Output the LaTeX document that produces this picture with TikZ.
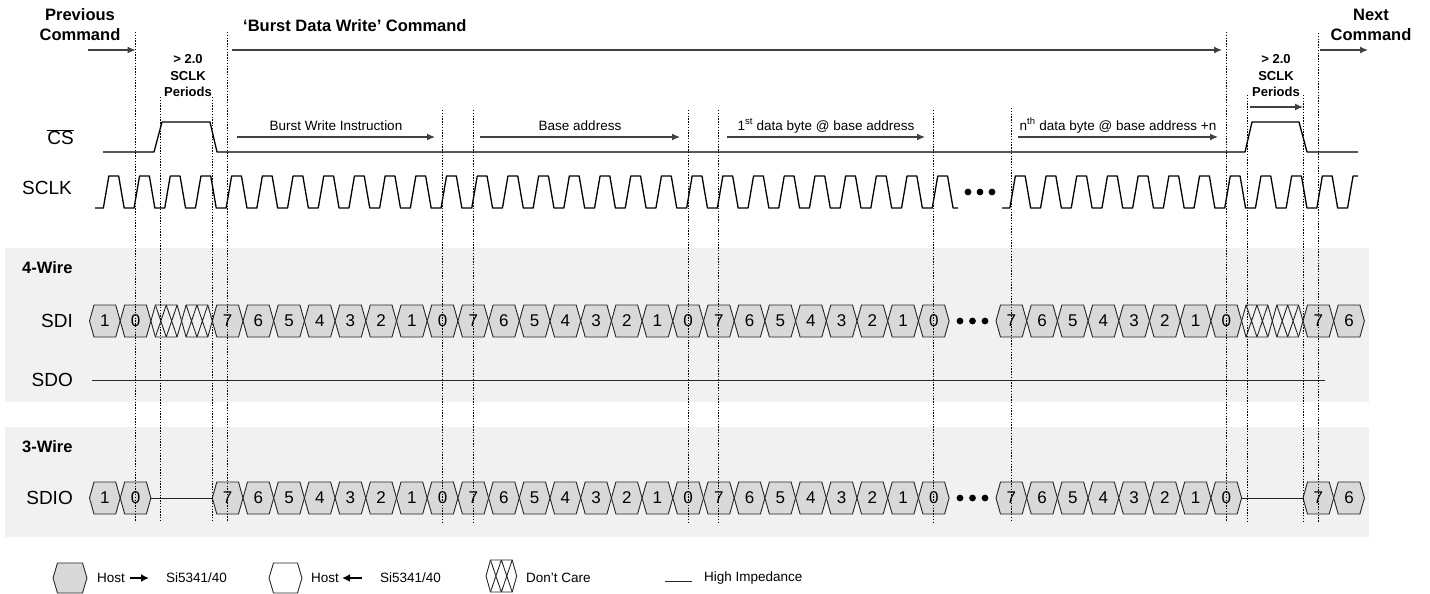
\documentclass[tikz,border=0pt]{standalone}
\usepackage{fontspec}
\setmainfont{Liberation Sans}
\usetikzlibrary{arrows.meta}
\definecolor{bandgray}{HTML}{F1F1F1}
\definecolor{bitgray}{HTML}{D9D9D9}
\definecolor{spangray}{HTML}{404040}
\newcommand{\cw}{30.7}
% bit cell: name, left x, centre y, bit
\newcommand{\bitcell}[4]{%
  \draw[cell] (#2,#3) -- ++(4.5,-16) -- ++(\cw-9,0) -- ++(4.5,16)
    -- ++(-4.5,16) -- ++(-\cw+9,0) -- cycle;
  \node[bit] (#1) at (#2+\cw/2,#3) {#4};}
% don't care cell: left x, centre y
\newcommand{\carecell}[2]{%
  \draw[wire] (#1,#2) -- ++(4.5,-16) -- ++(\cw-9,0) -- ++(4.5,16)
    -- ++(-4.5,16) -- ++(-\cw+9,0) -- cycle;
  \draw[wire] (#1+4.5,#2-16) -- (#1+\cw/2,#2+16) (#1+\cw/2,#2-16) -- (#1+4.5,#2+16)
    (#1+\cw/2,#2-16) -- (#1+\cw-4.5,#2+16) (#1+\cw-4.5,#2-16) -- (#1+\cw/2,#2+16);}

\begin{document}
\begin{tikzpicture}[x=1pt, y=-1pt,
  wave/.style={line width=1.3pt, line join=round},
  cell/.style={draw=black!85, fill=bitgray, line width=0.9pt},
  wire/.style={draw=black!85, line width=0.9pt},
  bit/.style={font=\fontsize{17}{17}\selectfont, inner sep=0pt},
  sig/.style={font=\fontsize{19}{19}\selectfont, anchor=east, inner sep=0pt},
  head/.style={font=\fontsize{16.5}{20}\selectfont\bfseries, align=center, inner sep=0pt},
  gap/.style={font=\fontsize{13}{16.5}\selectfont\bfseries, align=center, inner sep=0pt},
  small/.style={font=\fontsize{13.5}{13.5}\selectfont, inner sep=0pt},
  span/.style={draw=spangray, line width=1.3pt, -{Latex[length=8pt,width=7pt]}},
  hostarrow/.style={line width=1.8pt, -{Latex[length=8pt,width=8pt]}},
  guide/.style={line width=0.8pt, dash pattern=on 1.4pt off 1.4pt}]
  \useasboundingbox (0,0) rectangle (1430,594);

  % bands
  \fill[bandgray] (5,248) rectangle (1369,402);
  \fill[bandgray] (5,427) rectangle (1369,537);

  % headings
  \node[head] (prev) at (80,25) {Previous\\Command};
  \node[head] (next) at (1371,25) {Next\\Command};
  \node[head, anchor=west] (burst) at (243,26) {‘Burst Data Write’ Command};
  \coordinate (prev-s) at (88,50);    \coordinate (prev-e) at (135.55,50);
  \coordinate (burst-s) at (232,50);  \coordinate (burst-e) at (1222,50);
  \coordinate (next-s) at (1320,50);  \coordinate (next-e) at (1368,50);
  \draw[span] (prev-s) -- (prev-e);
  \draw[span] (burst-s) -- (burst-e);
  \draw[span] (next-s) -- (next-e);

  % gaps
  \node[gap] (gapl) at (188,76) {> 2.0\\SCLK\\Periods};
  \node[gap] (gapr) at (1276,76) {> 2.0\\SCLK\\Periods};
  \coordinate (gapr-s) at (1250,107); \coordinate (gapr-e) at (1303,107);
  \draw[span] (gapr-s) -- (gapr-e);

  % bytes
  \foreach \n/\s/\e/\t in {instr/237/435/Burst Write Instruction,
      base/480/680/Base address,
      first/727/925/1\textsuperscript{st} data byte @ base address,
      nth/1018/1218/n\textsuperscript{th} data byte @ base address +n}
  {
    \coordinate (\n-s) at (\s,137);
    \coordinate (\n-e) at (\e,137);
    \draw[span] (\n-s) -- (\n-e) node[small, midway, anchor=base, yshift=7pt] (\n) {\t};
  }

  % signal names
  \node[sig] (cs) at (74,137) {$\overline{\mbox{CS}}$};
  \node[sig] (sclk) at (72,188) {SCLK};
  \node[head, anchor=west] (w4) at (22,268) {4-Wire};
  \node[sig] (sdi) at (73,321) {SDI};
  \node[sig] (sdo) at (73,380) {SDO};
  \node[head, anchor=west] (w3) at (22,447) {3-Wire};
  \node[sig] (sdio) at (73,498) {SDIO};

  % CS
  \draw[wave] (103,152) -- (154,152) -- (162,122) -- (210,122) -- (217,152)
    -- (1245,152) -- (1252,122) -- (1299,122) -- (1307,152) -- (1358,152);

  % SCLK
  \draw[wave] (95,208) foreach \i in {0,...,27} {
    -- (89.5+\i*\cw+13.85,208) -- ++(5.5,-32) -- ++(9.8,0) -- ++(5.5,32) } -- (958,208);
  \draw[wave] (1002,208) foreach \i in {0,...,10} {
    -- (996+\i*\cw+13.85,208) -- ++(5.5,-32) -- ++(9.8,0) -- ++(5.5,32) }
    -- (996+11*\cw+13.85,208) -- ++(5.5,-32) -- (1358,176);
  \foreach \x in {968,980,992}
    \fill (\x,192) circle (3.4pt);

  % SDI and SDIO
  \foreach \y/\row in {321/sdi, 498/sdio}
  {
    \bitcell{\row0}{89.5}{\y}{1}
    \bitcell{\row1}{89.5+\cw}{\y}{0}
    \foreach \i in {4,...,27}
    {
      \pgfmathtruncatemacro\bv{7-mod(\i-4,8)}
      \bitcell{\row\i}{89.5+\i*\cw}{\y}{\bv}
    }
    \foreach \i in {0,...,7}
    {
      \pgfmathtruncatemacro\bv{7-\i}
      \bitcell{\row n\i}{996+\i*\cw}{\y}{\bv}
    }
    \bitcell{\row n10}{996+10*\cw}{\y}{7}
    \bitcell{\row n11}{996+11*\cw}{\y}{6}
    \foreach \x in {960,972.5,985}
      \fill (\x,\y) circle (3.4pt);
  }
  \foreach \x in {89.5+2*\cw, 89.5+3*\cw, 996+8*\cw, 996+9*\cw}
  {
    \carecell{\x}{321}
  }
  \draw[wire] (89.5+2*\cw,498) -- (89.5+4*\cw,498);
  \draw[wire] (996+8*\cw,498) -- (996+10*\cw,498);

  % SDO
  \draw[wire] (92,380) -- (1325,380);

  % guides
  \foreach \x/\t in {135.55/32, 160/97, 212.3/97, 227.65/32, 442.55/110, 473.25/110,
      688.15/110, 718.85/110, 933.75/110, 1011.35/108, 1226.25/32, 1247/95,
      1303/95, 1318.35/33}
    \draw[guide] (\x,\t) -- (\x,522);

  % legend
  \draw[cell] (53,578) -- ++(4.5,-15) -- ++(25,0) -- ++(4.5,15)
    -- ++(-4.5,15) -- ++(-25,0) -- cycle;
  \node[small, anchor=west] (host1) at (97,578) {Host};
  \coordinate (to-s) at (130,578); \coordinate (to-e) at (149,578);
  \draw[hostarrow] (to-s) -- (to-e);
  \node[small, anchor=west] (si1) at (166,578) {Si5341/40};
  \draw[wire, fill=white] (269,578) -- ++(4.5,-15) -- ++(24,0) -- ++(4.5,15)
    -- ++(-4.5,15) -- ++(-24,0) -- cycle;
  \node[small, anchor=west] (host2) at (311,578) {Host};
  \coordinate (from-s) at (362,578); \coordinate (from-e) at (342,578);
  \draw[hostarrow] (from-s) -- (from-e);
  \node[small, anchor=west] (si2) at (380,578) {Si5341/40};
  \carecell{486}{576}
  \node[small, anchor=west] (care) at (526,578) {Don't Care};
  \draw[wire] (665,581) -- (692,581);
  \node[small, anchor=west] (hiz) at (704,578) {High Impedance};
\end{tikzpicture}
\end{document}
